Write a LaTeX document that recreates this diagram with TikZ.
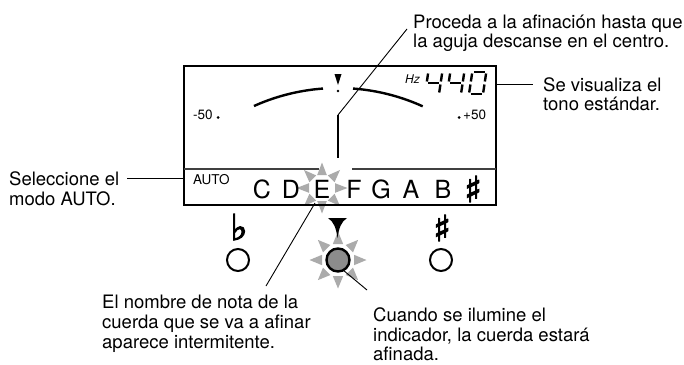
\documentclass[tikz,border=0pt]{standalone}
\usepackage{fontspec}
\setmainfont{TeX Gyre Heros}
\newfontfamily\symfont[FakeBold=3]{DejaVu Sans}
\newcommand{\raystar}[5]{%
  \foreach \a in {0,45,...,315}{%
    \fill[ray] ({#1+#3*cos(\a)-#5*sin(\a)},{#2+#3*sin(\a)+#5*cos(\a)}) -- ({#1+#4*cos(\a)},{#2+#4*sin(\a)}) -- ({#1+#3*cos(\a)+#5*sin(\a)},{#2+#3*sin(\a)-#5*cos(\a)}) -- cycle;}}
\newcommand{\segl}[5]{\draw[seg] ({#1+#2+(22-#3)*0.15},{72+#3}) -- ({#1+#4+(22-#5)*0.15},{72+#5});}
\begin{document}
\begin{tikzpicture}[x=1pt,y=-1pt,
  lbl/.style={font=\fontsize{18.5}{20}\selectfont, inner sep=0pt, anchor=base west},
  small/.style={font=\fontsize{13.5}{14}\selectfont, inner sep=0pt, anchor=base west},
  note/.style={font=\fontsize{25}{25}\selectfont, inner sep=0pt, anchor=base},
  sym/.style={inner sep=0pt, anchor=center, font=\symfont\fontsize{36}{36}\selectfont},
  leader/.style={line width=0.9pt},
  ray/.style={fill=black!33, draw=none},
  seg/.style={line width=2.4pt},
  btn/.style={circle, draw, line width=2pt, minimum size=22pt, inner sep=0pt}]
\useasboundingbox (0,0) rectangle (684,364);
% rays
\raystar{322}{188}{13}{25.5}{4.8}
\raystar{338}{260}{16}{28.5}{5.2}
% display box
\draw[line width=2.5pt] (184,66) rectangle (496,205);
\draw[line width=1.4pt, black!75] (184,169) -- (319,169);
\draw[line width=1.4pt, black!75] (352,169) -- (496,169);
% arc
\draw[line width=2.4pt] plot[domain=-114.2:-94.2, samples=30] ({338+205*cos(\x)},{293+205*sin(\x)});
\draw[line width=2.4pt] plot[domain=-85.8:-65.6, samples=30] ({338+205*cos(\x)},{293+205*sin(\x)});
% needle and marker
\coordinate (needleTop) at (338,115);
\coordinate (needleBot) at (338,158);
\draw[line width=1.2pt] (needleTop) -- (needleBot);
\fill (334.5,74) -- (341.5,74) -- (338,85) -- cycle;
\fill (338,91) circle (1.4);
% scale labels
\node[small] (m50) at (193,119) {-50};
\fill (218,117.5) circle (1.5);
\fill (459,117.5) circle (1.5);
\node[small] (p50) at (463,119) {+50};
\node[font=\fontsize{12}{12}\selectfont\itshape, inner sep=0pt, anchor=base west] (hz) at (405,83) {Hz};
% 7-seg 440
\segl{425}{0}{1.5}{0}{9.5}\segl{425}{1.5}{11}{12.5}{11}\segl{425}{14}{1.5}{14}{9.5}\segl{425}{14}{12.5}{14}{20.5}
\segl{447}{0}{1.5}{0}{9.5}\segl{447}{1.5}{11}{12.5}{11}\segl{447}{14}{1.5}{14}{9.5}\segl{447}{14}{12.5}{14}{20.5}
\segl{469}{1.5}{0}{12.5}{0}\segl{469}{14}{1.5}{14}{9.5}\segl{469}{14}{12.5}{14}{20.5}
\segl{469}{1.5}{22}{12.5}{22}\segl{469}{0}{12.5}{0}{20.5}\segl{469}{0}{1.5}{0}{9.5}
% AUTO and notes
\node[small] (auto) at (193,184) {AUTO};
\node[note] (nC) at (262,198) {C};
\node[note] (nD) at (291,198) {D};
\node[note] (nE) at (322,198) {E};
\node[note] (nF) at (354,198) {F};
\node[note] (nG) at (381,198) {G};
\node[note] (nA) at (411,198) {A};
\node[note] (nB) at (443,198) {B};
\node[sym] (nS) at (473,189) {♯};
% buttons
\node[sym] (flat) at (239,227) {♭};
\node[sym] (sharp) at (442,228) {♯};
\node[btn] (bflat) at (238,260) {};
\node[btn] (bsharp) at (441,260) {};
\node[btn, fill=black!45, line width=2.4pt, minimum size=23pt] (bmid) at (338,260) {};
\fill (328,218) -- (347,218) .. controls (341,222) and (339,228) .. (337.5,238) .. controls (336,228) and (334,222) .. (328,218) -- cycle;
% texts
\node[lbl] (proc1) at (413,28) {Proceda a la afinación hasta que};
\node[lbl] (proc2) at (413,47) {la aguja descanse en el centro.};
\node[lbl] (sev1) at (543,91) {Se visualiza el};
\node[lbl] (sev2) at (543,110) {tono estándar.};
\node[lbl] (sel1) at (9,185) {Seleccione el};
\node[lbl] (sel2) at (9,205) {modo AUTO.};
\node[lbl] (nom1) at (102,308) {El nombre de nota de la};
\node[lbl] (nom2) at (102,328) {cuerda que se va a afinar};
\node[lbl] (nom3) at (102,348) {aparece intermitente.};
\node[lbl] (cua1) at (373,321) {Cuando se ilumine el};
\node[lbl] (cua2) at (373,341) {indicador, la cuerda estará};
\node[lbl] (cua3) at (373,360) {afinada.};
% leaders
\coordinate (procTip) at (407,29);
\draw[leader] (procTip) -- (needleTop);
\coordinate (sevA) at (497,84);
\coordinate (sevB) at (533,84);
\draw[leader] (sevA) -- (sevB);
\coordinate (selA) at (127,178);
\coordinate (selB) at (184,178);
\draw[leader] (selA) -- (selB);
\coordinate (eTip) at (315,203);
\coordinate (nomTip) at (266,286);
\draw[leader] (eTip) -- (nomTip);
\coordinate (midTip) at (343,270);
\coordinate (cuaTip) at (367,290);
\draw[leader] (midTip) -- (cuaTip);
\end{tikzpicture}
\end{document}
